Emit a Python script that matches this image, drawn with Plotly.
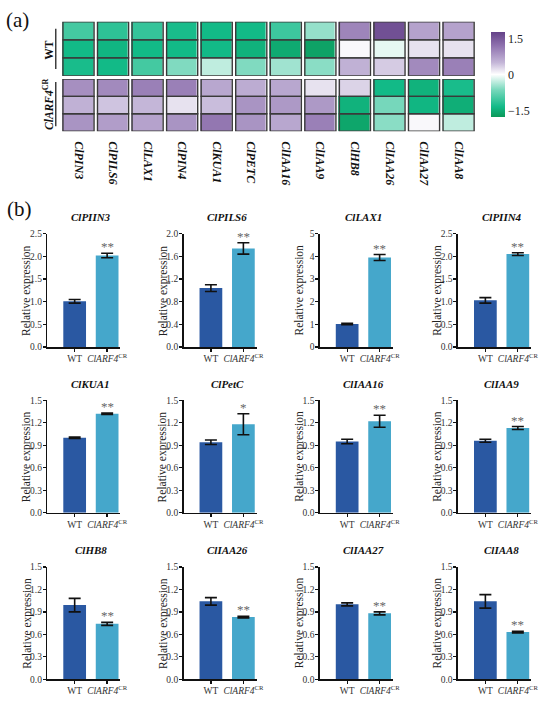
import plotly.graph_objects as go

# ---------------- DATA ----------------
hm_genes = ["ClPIN3", "ClPILS6", "ClLAX1", "ClPIN4", "ClKUA1", "ClPETC",
            "ClIAA16", "ClIAA9", "ClHB8", "ClIAA26", "ClIAA27", "ClIAA8"]
# z-scores, 3 replicates (rows) x 12 genes (cols)
hm_wt = [
    [-1.00, -1.15, -1.10, -1.30, -1.35, -1.35, -1.05, -0.50, 1.00, 1.60, 0.70, 0.70],
    [-1.35, -1.40, -1.35, -1.35, -1.35, -1.45, -1.55, -1.65, 0.05, -0.12, 0.20, 0.20],
    [-1.30, -1.35, -1.00, -0.60, -0.30, -0.60, -0.45, -0.55, 0.55, 0.35, 0.95, 1.05],
]
hm_cr = [
    [0.90, 0.95, 1.05, 1.05, 0.65, 0.60, 0.65, 0.20, 0.30, -1.35, -1.45, -1.30],
    [0.55, 0.40, 0.50, 0.20, 0.45, 0.85, 0.80, 0.80, -1.45, -0.65, -1.40, -1.50],
    [0.85, 0.75, 0.70, 0.85, 1.15, 0.85, 0.65, 1.05, -1.60, -0.55, 0.05, -0.30],
]
cb_ticks = [-1.5, 0, 1.5]
cb_ticktext = ["\u22121.5", "0", "1.5"]

bar_genes = ["ClPIIN3", "ClPILS6", "ClLAX1", "ClPIIN4",
             "ClKUA1", "ClPetC", "ClIAA16", "ClIAA9",
             "ClHB8", "ClIAA26", "ClIAA27", "ClIAA8"]
wt_mean = [1.01, 1.04, 1.02, 1.03, 1.00, 0.94, 0.95, 0.96, 0.99, 1.04, 1.00, 1.04]
wt_err  = [0.04, 0.06, 0.03, 0.06, 0.01, 0.03, 0.03, 0.02, 0.09, 0.05, 0.02, 0.09]
cr_mean = [2.02, 1.74, 3.95, 2.05, 1.32, 1.18, 1.22, 1.13, 0.74, 0.83, 0.88, 0.63]
cr_err  = [0.05, 0.10, 0.13, 0.03, 0.01, 0.14, 0.08, 0.02, 0.02, 0.01, 0.02, 0.01]
signif  = ["**", "**", "**", "**", "**", "*", "**", "**", "**", "**", "**", "**"]
y_max   = [2.5, 2.0, 5, 2.5, 1.5, 1.5, 1.5, 1.5, 1.5, 1.5, 1.5, 1.5]
y_dtick = [0.5, 0.4, 1, 0.5, 0.3, 0.3, 0.3, 0.3, 0.3, 0.3, 0.3, 0.3]
groups = ["WT", "<i>ClARF4</i><sup>CR</sup>"]

# ---------------- LAYOUT HELPERS ----------------
W, H = 550, 704
FONT = "Liberation Serif, Times New Roman, serif"


def fx(px):
    return px / W


def fy(px):
    return 1 - px / H


colorscale = [
    [0.0, "rgb(12,152,88)"],
    [0.12, "rgb(18,186,136)"],
    [0.32, "rgb(120,216,188)"],
    [0.5, "rgb(255,255,255)"],
    [0.64, "rgb(196,182,216)"],
    [0.85, "rgb(140,110,172)"],
    [1.0, "rgb(100,66,136)"],
]
ZMAX = 1.77

fig = go.Figure()

# ---------------- HEATMAP ----------------
hx0, hx1 = 62, 482
blocks = [(hm_wt, "x", "y"), (hm_cr, "x2", "y2")]
shapes = []
for bi, (z, xa, ya) in enumerate(blocks):
    fig.add_trace(go.Heatmap(
        z=z, x=list(range(len(hm_genes))), y=[0, 1, 2],
        xaxis=xa, yaxis=ya, zmin=-ZMAX, zmax=ZMAX, colorscale=colorscale,
        xgap=3.5, ygap=0, showscale=(bi == 0), hoverinfo="skip",
        colorbar=dict(
            x=fx(497), xanchor="left", xpad=0, y=fy(70.5), yanchor="middle",
            lenmode="pixels", len=105, thicknessmode="pixels", thickness=14,
            outlinewidth=0, tickvals=cb_ticks, ticktext=cb_ticktext, ticks="",
            tickfont=dict(family=FONT, size=12, color="#222"),
        ),
    ))
    for i in range(len(hm_genes)):
        for r in range(3):
            shapes.append(dict(type="rect", xref=xa, yref=ya,
                               x0=i - 0.45, x1=i + 0.45, y0=r - 0.5, y1=r + 0.5,
                               line=dict(color="#3a3a3a", width=1.4), layer="above"))

layout_axes = {}
layout_axes["xaxis"] = dict(domain=[fx(hx0), fx(hx1)], range=[-0.5, 11.5], anchor="y",
                            showticklabels=False, showgrid=False, zeroline=False, ticks="")
layout_axes["yaxis"] = dict(domain=[fy(72), fy(17)], range=[2.5, -0.5], anchor="x",
                            visible=False)
layout_axes["xaxis2"] = dict(domain=[fx(hx0), fx(hx1)], range=[-0.5, 11.5], anchor="y2",
                             tickvals=list(range(len(hm_genes))),
                             ticktext=[f"<b><i>{g}</i></b>" for g in hm_genes],
                             tickangle=90, ticks="", ticklabelstandoff=9,
                             tickfont=dict(family=FONT, size=12, color="#111"),
                             showgrid=False, zeroline=False, showline=False)
layout_axes["yaxis2"] = dict(domain=[fy(128), fy(75)], range=[2.5, -0.5], anchor="x2",
                             visible=False)

annotations = []


def ann(x, y, text, size, color="#111", angle=0, xanchor="center", yanchor="middle"):
    annotations.append(dict(x=x, y=y, xref="paper", yref="paper", text=text,
                            textangle=angle, showarrow=False, xanchor=xanchor,
                            yanchor=yanchor, font=dict(family=FONT, size=size, color=color)))


# row group labels
ann(fx(50), fy(45), "<b>WT</b>", 11.5, angle=-90)
ann(fx(48), fy(101), "<b><i>ClARF4</i><sup>CR</sup></b>", 11.5, angle=-90)
shapes.append(dict(type="line", xref="paper", yref="paper", x0=fx(56.5), x1=fx(56.5),
                   y0=fy(24), y1=fy(65), line=dict(color="#222", width=1.3)))
shapes.append(dict(type="line", xref="paper", yref="paper", x0=fx(56.5), x1=fx(56.5),
                   y0=fy(78), y1=fy(123), line=dict(color="#222", width=1.3)))

# panel letters
ann(fx(4), fy(15), "(a)", 21, xanchor="left")
ann(fx(5), fy(207), "(b)", 21, xanchor="left")

# ---------------- BAR PANELS ----------------
col_x = [48, 186, 324, 464]
row_y = [(232, 347), (401, 515), (570, 684)]
AXW = 74
WT_COL = "#2a58a2"
CR_COL = "#45a7cb"

for k, gene in enumerate(bar_genes):
    r, c = divmod(k, 4)
    n = k + 3
    xa, ya = f"x{n}", f"y{n}"
    a = col_x[c]
    top, bot = row_y[r]
    fig.add_trace(go.Bar(
        x=[0, 1], y=[wt_mean[k], cr_mean[k]], xaxis=xa, yaxis=ya, width=0.7,
        marker=dict(color=[WT_COL, CR_COL], line=dict(width=0)),
        error_y=dict(type="data", array=[wt_err[k], cr_err[k]], visible=True,
                     color="#111", thickness=1.6, width=6),
        hoverinfo="skip",
    ))
    fmt = ".0f" if y_dtick[k] >= 1 else ".1f"
    layout_axes[f"xaxis{n}"] = dict(
        domain=[fx(a), fx(a + AXW)], range=[-0.84, 1.41], anchor=ya,
        tickvals=[0, 1], ticktext=groups, tickangle=0, ticks="outside", ticklen=3,
        tickwidth=1.3, tickcolor="#111", showline=True, linecolor="#111", linewidth=1.6,
        showgrid=False, zeroline=False, fixedrange=True, ticklabelstandoff=-1,
        tickfont=dict(family=FONT, size=9.5, color="#333"))
    layout_axes[f"yaxis{n}"] = dict(
        domain=[fy(bot), fy(top)], range=[0, y_max[k]], anchor=xa,
        dtick=y_dtick[k], tick0=0, tickformat=fmt, ticks="outside", ticklen=3,
        tickwidth=1.3, tickcolor="#111", showline=True, linecolor="#111",
        linewidth=1.6, showgrid=False, zeroline=False, ticklabelstandoff=-1,
        tickfont=dict(family=FONT, size=9.5, color="#333"))
    # title
    ann(fx(a + 44), fy(top - 17), f"<b><i>{gene}</i></b>", 11)
    # y-axis title
    ann(fx(a - 21), fy((top + bot) / 2), "Relative expression", 11.5, color="#222", angle=-90)
    # significance
    annotations.append(dict(x=1, y=cr_mean[k] + cr_err[k], xref=xa, yref=ya,
                            text=signif[k], showarrow=False, xanchor="center",
                            yanchor="bottom", yshift=-3,
                            font=dict(family=FONT, size=13, color="#666")))

fig.update_layout(
    width=W, height=H, autosize=False,
    margin=dict(l=0, r=0, t=0, b=0),
    paper_bgcolor="white", plot_bgcolor="white",
    showlegend=False, shapes=shapes, annotations=annotations,
    font=dict(family=FONT, color="#222"),
    **layout_axes,
)

fig.write_html("out.html", config={"displayModeBar": False, "staticPlot": True},
               post_script="document.body.style.margin='0px';document.body.style.overflow='hidden';")
